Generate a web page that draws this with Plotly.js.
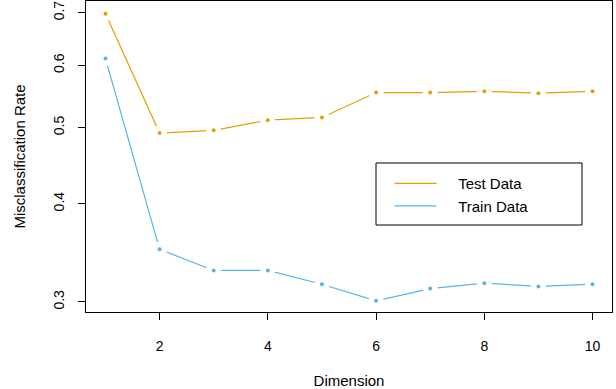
<!DOCTYPE html>
<html>
<head>
<meta charset="utf-8">
<script src="https://cdn.plot.ly/plotly-3.0.1.min.js"></script>
<style>html,body{margin:0;padding:0;background:#fff;}#chart{width:616px;height:389px;}</style>
</head>
<body>
<div id="chart"></div>
<script>
const dimension = [1, 2, 3, 4, 5, 6, 7, 8, 9, 10];
const testRate  = [0.698, 0.492, 0.496, 0.511, 0.515, 0.554, 0.554, 0.556, 0.553, 0.556];
const trainRate = [0.612, 0.350, 0.329, 0.329, 0.316, 0.301, 0.312, 0.317, 0.314, 0.316];
const seriesNames = ["Test Data", "Train Data"];
const xTicks = [2, 4, 6, 8, 10];
const yTicks = [0.3, 0.4, 0.5, 0.6, 0.7];

const orange = "#E69F00";
const blue = "#56B4E9";
const font = "Liberation Sans, Arial, Helvetica, sans-serif";
const pad = "\u00a0\u00a0\u00a0\u00a0";

function lineTrace(y, name, color) {
  return {x: dimension, y: y, name: pad + name, type: "scatter", mode: "lines",
          line: {color: color, width: 1.2}, showlegend: true, hoverinfo: "skip"};
}
function gapTrace(y) {
  return {x: dimension, y: y, type: "scatter", mode: "markers",
          marker: {color: "#ffffff", size: 15, line: {width: 0}}, showlegend: false, hoverinfo: "skip"};
}
function dotTrace(y, color) {
  return {x: dimension, y: y, type: "scatter", mode: "markers",
          marker: {color: color, size: 4, line: {width: 0}}, showlegend: false};
}

const data = [
  lineTrace(testRate, seriesNames[0], orange),
  lineTrace(trainRate, seriesNames[1], blue),
  gapTrace(testRate), gapTrace(trainRate),
  dotTrace(testRate, orange), dotTrace(trainRate, blue)
];

const layout = {
  width: 616, height: 389,
  margin: {l: 86, r: 4, t: 1, b: 77},
  paper_bgcolor: "#fff", plot_bgcolor: "#fff",
  font: {family: font, size: 14, color: "#000"},
  showlegend: true,
  legend: {x: 0.577, y: 0.466, xanchor: "left", yanchor: "top",
           bgcolor: "rgba(0,0,0,0)", borderwidth: 0,
           font: {family: font, size: 15, color: "#000"}, itemwidth: 42,
           tracegroupgap: 0},
  xaxis: {
    range: [0.64, 10.36], tickvals: xTicks, ticktext: xTicks.map(String),
    showgrid: false, zeroline: false, showline: true, mirror: true,
    linecolor: "#000", linewidth: 1, ticks: "outside", ticklen: 7, tickcolor: "#000",
    tickfont: {family: font, size: 14}, ticklabelstandoff: 14,
    title: {text: "Dimension", font: {family: font, size: 15}, standoff: 22}
  },
  yaxis: {
    type: "log", range: [Math.log10(0.2913), Math.log10(0.7244)],
    tickvals: yTicks, ticktext: yTicks.map(v => v.toFixed(1)), tickangle: -90,
    showgrid: false, zeroline: false, showline: true, mirror: true,
    linecolor: "#000", linewidth: 1, ticks: "outside", ticklen: 7, tickcolor: "#000",
    tickfont: {family: font, size: 14}, ticklabelstandoff: 8,
    title: {text: "Misclassification Rate", font: {family: font, size: 15}, standoff: 22}
  },
  shapes: [{type: "rect", xref: "paper", yref: "paper",
            x0: (376 - 86) / 526, x1: (582 - 86) / 526,
            y0: (312 - 225) / 311, y1: (312 - 163) / 311,
            line: {color: "#000", width: 1}, fillcolor: "rgba(0,0,0,0)"}]
};

Plotly.newPlot("chart", data, layout, {displayModeBar: false, staticPlot: true});
</script>
</body>
</html>
